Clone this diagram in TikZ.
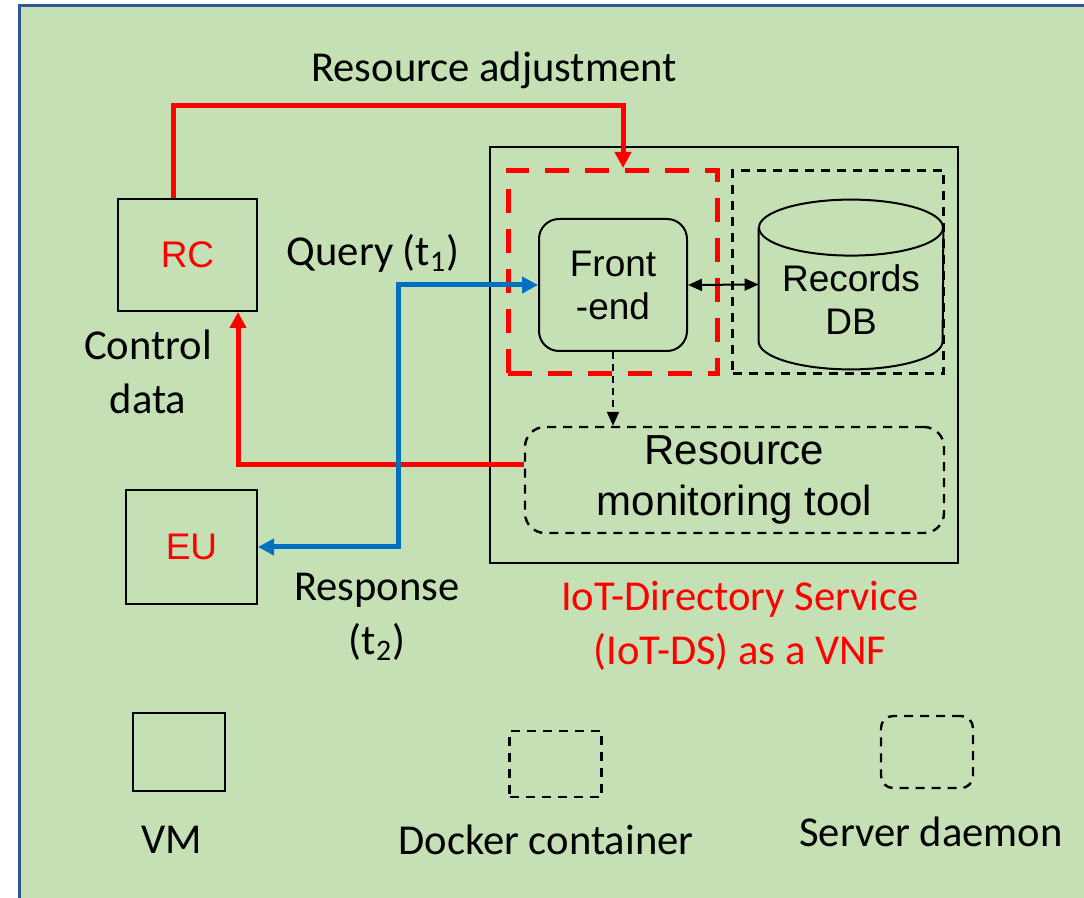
\documentclass[tikz,border=0pt]{standalone}
\usepackage{fontspec}
\setmainfont{Carlito}
\newfontfamily\arialfont{Liberation Sans}
\usetikzlibrary{arrows.meta}
\definecolor{bggreen}{HTML}{C5E0B4}
\definecolor{bgblue}{HTML}{2F5597}
\definecolor{qblue}{HTML}{0070C0}
\definecolor{ctrlred}{HTML}{FF0000}
\tikzset{
    vmbox/.style={draw,line width=1pt,minimum width=#1},
    dockbox/.style={draw,line width=1.2pt,dash pattern=on 4.5pt off 3.5pt},
    daemonbox/.style={draw,line width=1.2pt,dash pattern=on 4.5pt off 3.5pt,rounded corners=10pt},
    lbl/.style={font=\fontsize{21.3}{27}\selectfont,align=center},
    arl/.style={font=\arialfont\fontsize{18.5}{21.5}\selectfont,align=center},
    redline/.style={draw=ctrlred,line width=2.5pt,-{Triangle[length=8pt,width=8pt]}},
    blueline/.style={draw=qblue,line width=2.5pt,{Triangle[length=8pt,width=8pt]}-{Triangle[length=8pt,width=8pt]}},
}
\begin{document}
\begin{tikzpicture}[x=0.5pt,y=-0.5pt]
    \useasboundingbox (0,0) rectangle (1084,898);
    %% background
    \fill[white] (0,0) rectangle (1084,898);
    \draw[fill=bggreen,draw=bgblue,line width=1.5pt] (19,6) rectangle (1110,920);
    %% VMs
    \node[vmbox=69.5pt,minimum height=56pt,arl,text=ctrlred] (rc) at (187.5,255) {RC};
    \node[vmbox=65.5pt,minimum height=57pt,arl,text=ctrlred] (eu) at (191.5,547) {EU};
    \node[vmbox=234pt,minimum height=208pt] (vnf) at (724,355) {};
    %% containers of the VNF
    \node[draw=ctrlred,line width=2.5pt,dash pattern=on 12pt off 8pt,minimum width=104.5pt,minimum height=101.5pt] (redc) at (612.5,272) {};
    \node[dockbox,minimum width=105.5pt,minimum height=101.5pt] (dock) at (838,272) {};
    \node[draw,line width=1pt,rounded corners=10pt,minimum width=74pt,minimum height=66pt,arl] (fe) at (613,285) {Front\\-end};
    \node[minimum width=92pt,minimum height=84.5pt,inner sep=0pt] (db) at (851,284.5) {};
    \draw[line width=1pt] ([yshift=-14pt]db.north west) -- ([yshift=14pt]db.south west)
        arc[start angle=180,end angle=360,x radius=46pt,y radius=14pt] -- ([yshift=-14pt]db.north east);
    \draw[line width=1pt] ([yshift=-14pt]db.north) ellipse[x radius=46pt,y radius=14pt];
    \node[arl] (dbtext) at (851,300) {Records\\DB};
    \node[daemonbox,minimum width=209.5pt,minimum height=53pt,
        font=\arialfont\fontsize{21}{25.5}\selectfont,align=center] (mon) at (734.5,480) {Resource\\monitoring tool};
    %% connectors
    \draw[line width=1pt,{Triangle[length=7pt,width=6pt]}-{Triangle[length=7pt,width=6pt]}] (fe.east) -- (db.west);
    \draw[line width=1pt,dash pattern=on 3.5pt off 2.5pt,-{Triangle[length=7pt,width=6pt]}] (fe.south) -- (mon.north -| fe.south);
    \draw[redline] (rc.north -| 173,0) -- (173,106) -- (623,106) -- (redc.north -| 623,0);
    \draw[redline] (mon.west |- 0,465) -- (238,465) -- (rc.south -| 238,0);
    \draw[blueline] (eu.east) -- (398,547) -- (398,285) -- (fe.west);
    %% labels
    \node[lbl] (adj) at (494,70) {Resource adjustment};
    \node[lbl] (query) at (373,253) {Query (t\textsubscript{1})};
    \node[lbl] (ctrl) at (148,372) {Control\\data};
    \node[lbl] (resp) at (377,617) {Response\\(t\textsubscript{2})};
    \node[lbl,text=ctrlred] (iotds) at (740,626) {IoT-Directory Service\\(IoT-DS) as a VNF};
    %% legend
    \node[draw,line width=1pt,minimum width=46pt,minimum height=39pt] (lvm) at (179,752) {};
    \node[dockbox,minimum width=46pt,minimum height=33pt] (ldock) at (555.5,764) {};
    \node[daemonbox,minimum width=46pt,minimum height=36pt,rounded corners=6pt] (ldaemon) at (927,752) {};
    \node[lbl] (tvm) at (172,840) {VM};
    \node[lbl] (tdock) at (546,840) {Docker container};
    \node[lbl] (tdaemon) at (931,832) {Server daemon};
\end{tikzpicture}
\end{document}
